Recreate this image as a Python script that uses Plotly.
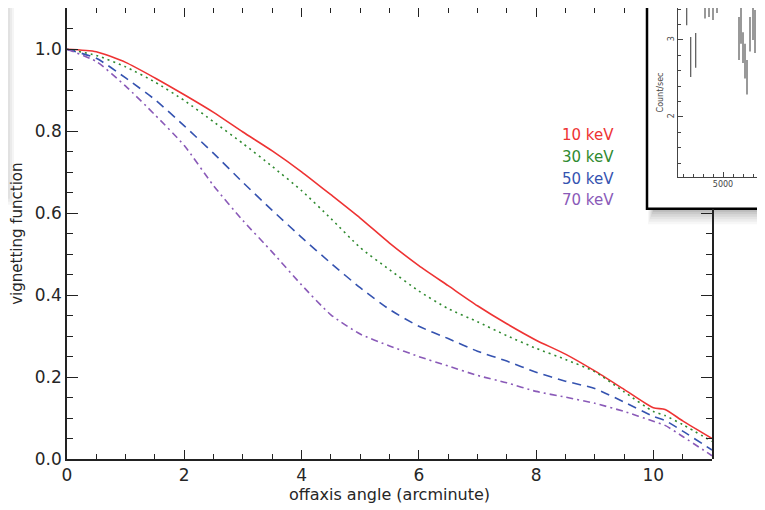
import plotly.graph_objects as go

# ---- main chart data ----
angle = [0, 0.5, 1.0, 1.5, 2.0, 2.5, 3.0, 3.5, 4.0, 4.5, 5.0, 5.5, 6.0, 6.5,
         7.0, 7.5, 8.0, 8.5, 9.0, 9.5, 10.0, 10.2, 10.5, 11.0]
vig_10kev = [1.0, 0.994, 0.968, 0.930, 0.889, 0.846, 0.798, 0.752, 0.701, 0.645,
             0.588, 0.527, 0.472, 0.423, 0.374, 0.330, 0.290, 0.256, 0.215, 0.170,
             0.125, 0.121, 0.093, 0.050]
vig_30kev = [1.0, 0.985, 0.957, 0.920, 0.875, 0.823, 0.770, 0.714, 0.655, 0.587,
             0.516, 0.462, 0.410, 0.367, 0.335, 0.301, 0.270, 0.243, 0.213, 0.164,
             0.116, 0.106, 0.084, 0.043]
vig_50kev = [1.0, 0.978, 0.930, 0.877, 0.813, 0.746, 0.675, 0.607, 0.541, 0.478,
             0.418, 0.365, 0.324, 0.294, 0.263, 0.239, 0.212, 0.190, 0.172, 0.139,
             0.104, 0.094, 0.068, 0.022]
vig_70kev = [1.0, 0.970, 0.910, 0.840, 0.765, 0.667, 0.582, 0.505, 0.425, 0.352,
             0.305, 0.276, 0.250, 0.227, 0.204, 0.186, 0.165, 0.151, 0.136, 0.116,
             0.092, 0.082, 0.055, 0.008]
series_names = ["10 keV", "30 keV", "50 keV", "70 keV"]
x_ticks = [0, 2, 4, 6, 8, 10]
y_ticks = [0.0, 0.2, 0.4, 0.6, 0.8, 1.0]

# ---- inset (light-curve screenshot) data ----
inset_time = [1370, 1770, 2270, 2700, 3200, 3600, 4000, 4400, 6600, 6800,
              7000, 7200, 7400, 7700, 8000, 8200, 8500, 8700, 8900, 9100]
inset_low = [3.19, 2.52, 2.64, 3.45, 3.28, 3.30, 3.26, 3.35, 2.74, 2.95,
             2.70, 2.50, 2.29, 2.85, 3.00, 2.83, 2.95, 3.20, 3.10, 2.95]
inset_high = [3.60, 3.04, 3.09, 3.60, 3.60, 3.60, 3.50, 3.60, 3.30, 3.45,
              3.10, 2.95, 2.74, 3.30, 3.45, 3.39, 3.50, 3.60, 3.50, 3.45]

# ---- geometry (window pixels; the page body adds an 8px offset) ----
OFF = 8
WIN_W, WIN_H = 765, 510
W, H = WIN_W - OFF, WIN_H - OFF
X_LEFT, X_RIGHT = 67, 712      # main plot box (window px)
Y_TOP, Y_BOT = 8.3, 459.3
INSET_LEFT, INSET_BOTTOM = 647, 209
INSET_AX_LEFT, INSET_AX_BOTTOM = 678, 177

L = X_LEFT - OFF
B = H - (Y_BOT - OFF)
T, R = 0, 0
pw, ph = W - L - R, H - T - B

def px_x(p):
    return (p - OFF - L) / pw

def px_y(p):
    return (H - B - (p - OFF)) / ph

ppu_x = (X_RIGHT - X_LEFT) / 11
ppu_y = (Y_BOT - Y_TOP) / 1.1

main_xdom = [0, px_x(X_RIGHT)]
main_ydom = [0, min(1.0, px_y(Y_TOP))]
xrange_main = [0, 11]
yrange_main = [0, 1.1]

# inset axes ranges (inset scale)
ix_per_px = 100.0                      # 1000 s per 10 px
ix0 = 5000 - (723 - INSET_AX_LEFT) * ix_per_px
ix1 = 5000 + (WIN_W - 723) * ix_per_px
iy_per_px = 1 / 77.0
iy0 = 3 - (INSET_AX_BOTTOM - 40) * iy_per_px
iy1 = 3 + (40 - OFF) * iy_per_px

colors = ["#ee3333", "#2f8a2f", "#3553b0", "#8a5ab8"]
dashes = ["solid", "2px,4px", "9px,6px", "7px,4px,2px,4px"]
AX = "#222222"
FONT = "DejaVu Sans"
TXT = "#262626"

fig = go.Figure()
for name, ys, c, d in zip(series_names, [vig_10kev, vig_30kev, vig_50kev, vig_70kev], colors, dashes):
    fig.add_trace(go.Scatter(x=angle, y=ys, mode="lines", name=name,
                             line=dict(color=c, width=1.6, dash=d, shape="spline", smoothing=0.6),
                             showlegend=False))

# empty traces so the partial mirror axes are drawn
fig.add_trace(go.Scatter(x=[], y=[], xaxis="x3", yaxis="y", showlegend=False, hoverinfo="skip"))
fig.add_trace(go.Scatter(x=[], y=[], xaxis="x", yaxis="y3", showlegend=False, hoverinfo="skip"))

# inset error bars
ex, ey = [], []
for t, lo, hi in zip(inset_time, inset_low, inset_high):
    ex += [t, t, None]
    ey += [lo, hi, None]
fig.add_trace(go.Scatter(x=ex, y=ey, mode="lines", xaxis="x2", yaxis="y2",
                         line=dict(color="#555555", width=1.2), showlegend=False))

tickfont = dict(family=FONT, size=17, color=TXT)
major_x = dict(ticks="inside", ticklen=9, tickwidth=1.3, tickcolor=AX,
               minor=dict(dtick=0.5, ticks="inside", ticklen=5, tickwidth=1.2, tickcolor=AX),
               showline=True, linecolor=AX, linewidth=1.5, showgrid=False, zeroline=False,
               automargin=False)
major_y = dict(ticks="inside", ticklen=11, tickwidth=1.3, tickcolor=AX,
               minor=dict(dtick=0.05, ticks="inside", ticklen=6, tickwidth=1.2, tickcolor=AX),
               showline=True, linecolor=AX, linewidth=1.5, showgrid=False, zeroline=False,
               automargin=False)
inset_ax = dict(ticks="inside", ticklen=5, tickwidth=0.8, tickcolor="#444",
                showline=True, linecolor="#444", linewidth=0.8, showgrid=False, zeroline=False,
                automargin=False, tickfont=dict(family=FONT, size=8, color="#444"))

fig.update_layout(
    width=W, height=H,
    margin=dict(l=L, r=R, t=T, b=B, autoexpand=False),
    paper_bgcolor="white", plot_bgcolor="rgba(0,0,0,0)",
    xaxis=dict(domain=main_xdom, range=xrange_main, tickvals=x_ticks, anchor="y",
               tickfont=tickfont,
               title=dict(text="offaxis angle (arcminute)", font=dict(family=FONT, size=16, color=TXT),
                          standoff=1),
               **major_x),
    yaxis=dict(domain=main_ydom, range=yrange_main, tickvals=y_ticks, tickformat=".1f", anchor="x",
               tickfont=tickfont,
               title=dict(text="vignetting function", font=dict(family=FONT, size=15, color=TXT),
                          standoff=16),
               **major_y),
    xaxis3=dict(domain=[0, px_x(INSET_LEFT)], range=[0, (INSET_LEFT - X_LEFT) / ppu_x],
                anchor="y", side="top", tickvals=x_ticks, showticklabels=False, **major_x),
    yaxis3=dict(domain=[0, px_y(INSET_BOTTOM)], range=[0, (Y_BOT - INSET_BOTTOM) / ppu_y],
                anchor="x", side="right", tickvals=y_ticks, showticklabels=False, **major_y),
    xaxis2=dict(domain=[px_x(INSET_AX_LEFT), 1], range=[ix0, ix1], anchor="y2",
                tickvals=[5000],
                minor=dict(dtick=1000, ticks="inside", ticklen=3, tickwidth=0.8, tickcolor="#444"),
                **inset_ax),
    yaxis2=dict(domain=[px_y(INSET_AX_BOTTOM), 1], range=[iy0, iy1], anchor="x2",
                tickvals=[2, 3], tickangle=-90,
                minor=dict(dtick=0.2, ticks="inside", ticklen=3, tickwidth=0.8, tickcolor="#444"),
                title=dict(text="Count/sec", font=dict(family=FONT, size=8, color="#444"), standoff=2),
                **inset_ax),
)

# coloured legend text
legend_y = [0.791, 0.738, 0.684, 0.633]
for name, c, yv in zip(series_names, colors, legend_y):
    fig.add_annotation(x=8.4, y=yv, xref="x", yref="y", text=name, showarrow=False,
                       xanchor="left", yanchor="middle",
                       font=dict(family=FONT, size=15, color=c))

shapes = []
# soft shadow of the inset picture
for i, op in enumerate([0.07, 0.06, 0.05, 0.04, 0.04, 0.03]):
    shapes.append(dict(type="rect", xref="paper", yref="paper", layer="below",
                       x0=px_x(INSET_LEFT + 6 - i), x1=1.05,
                       y0=px_y(INSET_BOTTOM + 3 + 2.5 * i), y1=1.05,
                       line=dict(width=0), fillcolor=f"rgba(0,0,0,{op})"))
# inset picture frame
shapes.append(dict(type="rect", xref="paper", yref="paper", layer="below",
                   x0=px_x(INSET_LEFT), x1=1.05, y0=px_y(INSET_BOTTOM), y1=1.05,
                   line=dict(color="black", width=2.5), fillcolor="white"))
# shadow strip at the left edge of the picture
for i, op in enumerate([0.04, 0.04, 0.04, 0.04, 0.04]):
    shapes.append(dict(type="rect", xref="paper", yref="paper", layer="below",
                       x0=px_x(-5), x1=px_x(14 - 2 * i), y0=px_y(205 - 3 * i), y1=1.02,
                       line=dict(width=0), fillcolor=f"rgba(0,0,0,{op})"))
fig.update_layout(shapes=shapes)

fig.write_html("out.html")
